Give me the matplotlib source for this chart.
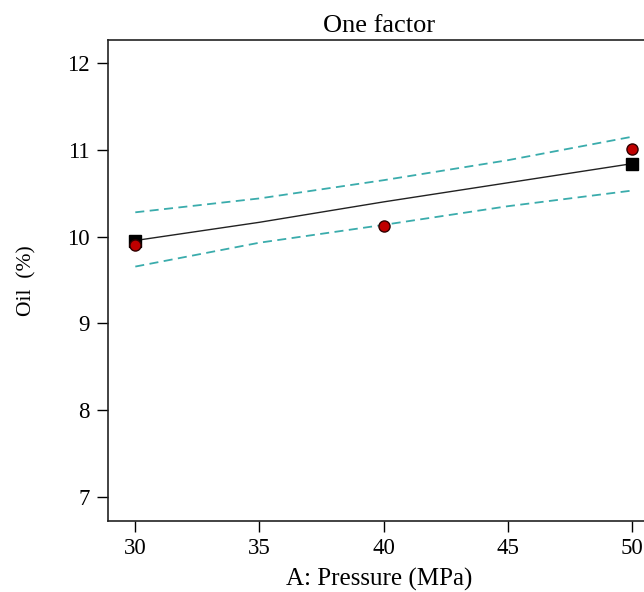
import matplotlib
matplotlib.use("Agg")
import matplotlib.pyplot as plt

plt.rcParams['font.family'] = ['Liberation Serif', 'DejaVu Serif']

# Data
x_band = [30, 35, 40, 45, 50]
fit = [9.955, 10.165, 10.40, 10.62, 10.84]
upper = [10.28, 10.44, 10.65, 10.88, 11.15]
lower = [9.655, 9.93, 10.135, 10.35, 10.53]

design_x = [30, 50]
design_pred = [9.955, 10.84]

obs_x = [30, 40, 50]
obs_y = [9.90, 10.12, 11.01]

xticks = [30, 35, 40, 45, 50]
yticks = [7, 8, 9, 10, 11, 12]

fig = plt.figure(figsize=(6.44, 5.92), dpi=100)
ax = fig.add_axes([108/644, 1 - 521/592, 1 - 108/644 + 0.01, (521 - 40)/592])

teal = '#3aacac'
ax.plot(x_band, upper, linestyle=(0, (5, 3)), color=teal, lw=1.3, zorder=2)
ax.plot(x_band, lower, linestyle=(0, (5, 3)), color=teal, lw=1.3, zorder=2)
ax.plot(x_band, fit, color='#222222', lw=1.0, zorder=3)
ax.plot(design_x, design_pred, linestyle='none', marker='s', markersize=8.5,
        color='black', zorder=4)
ax.plot(obs_x, obs_y, linestyle='none', marker='o', markersize=8,
        markerfacecolor='#c00000', markeredgecolor='#300000', markeredgewidth=1.0, zorder=5)

ax.set_xlim(28.9, 50.75)
ax.set_ylim(6.724, 12.265)
ax.set_xticks(xticks)
ax.set_yticks(yticks)
ax.tick_params(direction='out', length=8, width=1, labelsize=16.5, colors='black')
ax.tick_params(axis='x', pad=4.5)
ax.tick_params(axis='y', pad=5)
for s in ['left', 'bottom', 'top']:
    ax.spines[s].set_linewidth(1.2)
    ax.spines[s].set_color('#222222')
ax.spines['right'].set_visible(False)

ax.set_title('One factor', fontsize=19, pad=6)
ax.set_xlabel('A: Pressure (MPa)', fontsize=18, labelpad=6)
ax.set_ylabel('Oil  (%)', fontsize=15.5, labelpad=22)

fig.savefig('out.png', dpi=100)
